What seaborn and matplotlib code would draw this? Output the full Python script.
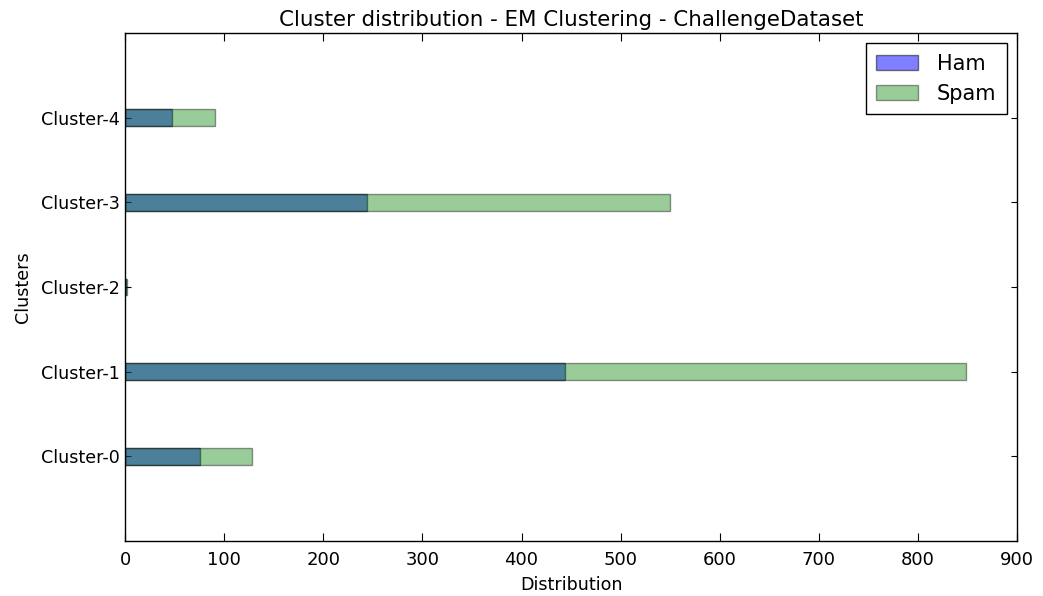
import matplotlib
matplotlib.use("Agg")
import matplotlib.pyplot as plt
import seaborn as sns
import pandas as pd
from matplotlib.patches import Patch

# Per-cluster message counts
clusters = ["Cluster-0", "Cluster-1", "Cluster-2", "Cluster-3", "Cluster-4"]
ham_counts = [76, 444, 1, 244, 47]
spam_counts = [128, 849, 2, 550, 91]

df = pd.DataFrame({"cluster": clusters, "ham": ham_counts, "spam": spam_counts})
order = clusters[::-1]

sns.set_style("ticks")
plt.rcParams["font.family"] = ["DejaVu Sans"]
plt.rcParams["text.color"] = "black"
plt.rcParams["axes.labelcolor"] = "black"
plt.rcParams["xtick.color"] = "black"
plt.rcParams["ytick.color"] = "black"

fig = plt.figure(figsize=(10.43, 5.96), dpi=100)
ax = fig.add_axes([0.12, 0.092, 0.855, 0.853])

sns.barplot(data=df, x="ham", y="cluster", order=order, orient="h",
            color="blue", saturation=1, width=0.2, alpha=0.5,
            edgecolor="black", linewidth=1, errorbar=None, ax=ax)
sns.barplot(data=df, x="spam", y="cluster", order=order, orient="h",
            color="green", saturation=1, width=0.2, alpha=0.4,
            edgecolor="black", linewidth=1, errorbar=None, ax=ax)

ax.set_xlim(0, 900)
ax.set_ylim(5, -1)
ax.set_xticks(range(0, 1000, 100))
ax.tick_params(axis="both", direction="in", top=True, right=True,
               width=0.8, color="black", labelcolor="black")
ax.tick_params(axis="x", length=6, pad=7, labelsize=13)
ax.tick_params(axis="y", length=4, pad=4, labelsize=12.6)
for s in ax.spines.values():
    s.set_color("black")
    s.set_linewidth(1)

ax.set_title("Cluster distribution - EM Clustering - ChallengeDataset",
             fontsize=15.4, color="black", pad=5)
ax.set_xlabel("Distribution", fontsize=12.6, color="black", labelpad=5)
ax.set_ylabel("Clusters", fontsize=12.6, color="black", labelpad=6)

handles = [Patch(facecolor="blue", alpha=0.5, edgecolor="black", label="Ham"),
           Patch(facecolor="green", alpha=0.4, edgecolor="black", label="Spam")]
leg = ax.legend(handles=handles, loc="upper right", fontsize=15, fancybox=False,
                frameon=True, edgecolor="black", framealpha=1, borderpad=0.5,
                handlelength=2.0, handletextpad=0.9)
leg.get_frame().set_linewidth(1)

fig.savefig("out.png", dpi=100, facecolor="white")
